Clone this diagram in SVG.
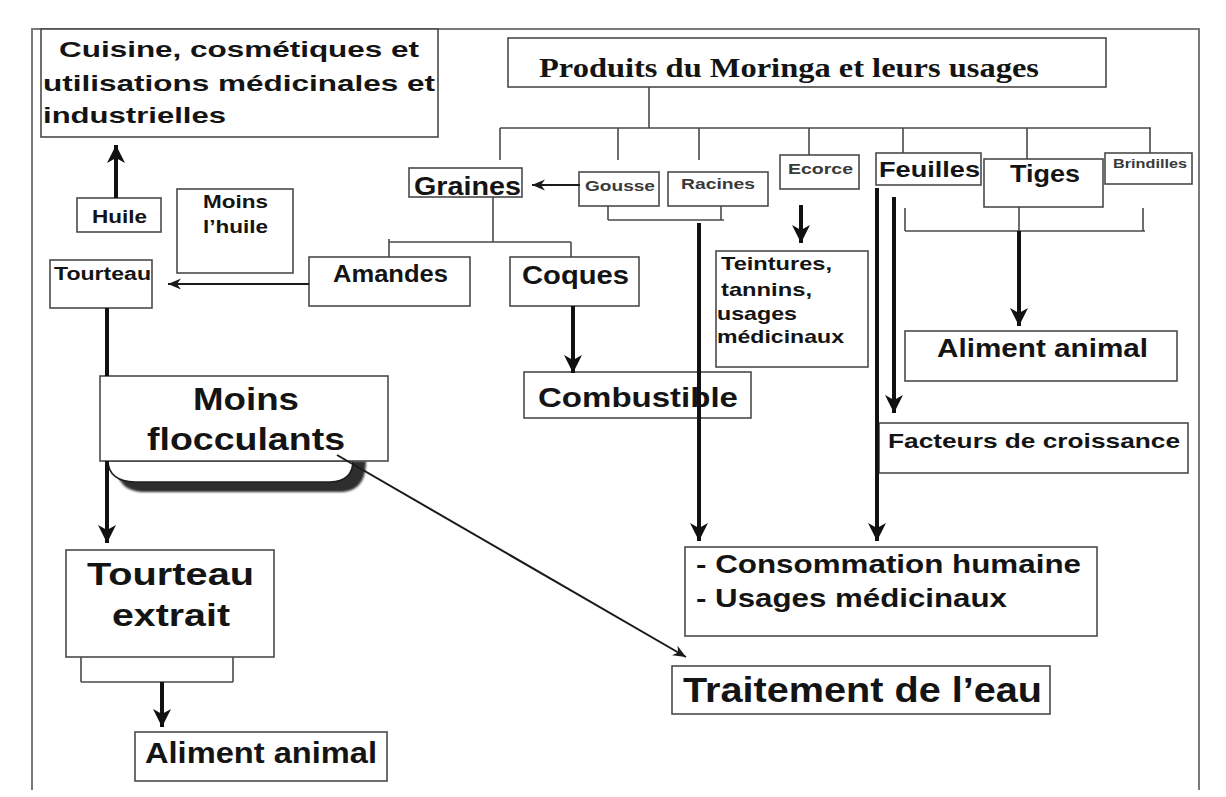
<svg xmlns="http://www.w3.org/2000/svg" width="1226" height="797" viewBox="0 0 1226 797">
  <style>
    .box { fill: #ffffff; stroke: #4a4a4a; stroke-width: 1.6; }
    .t { font-family: "Liberation Sans", Arial, sans-serif; font-weight: bold; fill: #141414; }
    .tg { font-family: "Liberation Sans", Arial, sans-serif; font-weight: bold; fill: #3a3a3a; }
    .ts { font-family: "Liberation Serif", "Times New Roman", serif; font-weight: bold; fill: #141414; }
    .tree { fill: none; stroke: #4a4a4a; stroke-width: 1.6; }
    .thick { fill: none; stroke: #111; stroke-width: 4; }
    .thin { fill: none; stroke: #1a1a1a; stroke-width: 2; }
    .frame { fill: none; stroke: #7a7a7a; stroke-width: 2; }
  </style>
  <defs>
    <marker id="headBig" markerUnits="userSpaceOnUse" markerWidth="20" markerHeight="20" viewBox="0 0 20 20" refX="18" refY="10" orient="auto">
      <path d="M0,1 L18,10 L0,19 L5,10 Z" fill="#111"/>
    </marker>
    <marker id="headSmall" markerUnits="userSpaceOnUse" markerWidth="14" markerHeight="12" viewBox="0 0 14 12" refX="13" refY="6" orient="auto">
      <path d="M0,0.5 L13,6 L0,11.5 L4,6 Z" fill="#1a1a1a"/>
    </marker>
    <filter id="soft" x="-10%" y="-30%" width="120%" height="160%">
      <feGaussianBlur stdDeviation="1.2"/>
    </filter>
  </defs>

  <rect x="0" y="0" width="1226" height="797" fill="#ffffff"/>

  <!-- page frame -->
  <path class="frame" d="M32,790 L32,29 L1199,29 L1199,790"/>

  <!-- branching lines of the tree -->
  <g id="tree-lines">
    <path class="tree" d="M649,87 V128 M500,128 H1151 M500,128 V160 M618,128 V160 M699,128 V160 M809,128 V155 M903,128 V153 M1027,128 V159 M1150,128 V153"/>
    <path class="tree" d="M493,197 V242 M389,242 H571 M389,239 V263 M571,242 V263"/>
    <path class="tree" d="M608,206 V220 M721,206 V220 M608,220 H724"/>
    <path class="tree" d="M905,208 V231 M1143,208 V231 M905,231 H1145 M1019,207 V231"/>
    <path class="tree" d="M81,657 V682 M233,657 V682 M81,682 H233"/>
  </g>

  <!-- nodes -->
  <g id="node-cuisine">
    <rect class="box" x="41" y="29" width="397" height="108"/>
    <text class="t" x="59" y="57" font-size="22" textLength="360" lengthAdjust="spacingAndGlyphs">Cuisine, cosmétiques et</text>
    <text class="t" x="43" y="91" font-size="22" textLength="392" lengthAdjust="spacingAndGlyphs">utilisations médicinales et</text>
    <text class="t" x="43" y="123" font-size="22" textLength="183" lengthAdjust="spacingAndGlyphs">industrielles</text>
  </g>

  <g id="node-produits">
    <rect class="box" x="508" y="38" width="598" height="49"/>
    <text class="ts" x="539" y="77" font-size="27" textLength="500" lengthAdjust="spacingAndGlyphs">Produits du Moringa et leurs usages</text>
  </g>

  <g id="node-huile">
    <rect class="box" x="77" y="198" width="84" height="34"/>
    <text class="t" x="92" y="223" font-size="19" textLength="55" lengthAdjust="spacingAndGlyphs">Huile</text>
  </g>

  <g id="node-moins-huile">
    <rect class="box" x="177" y="189" width="116" height="84"/>
    <text class="t" x="203" y="208" font-size="18" textLength="65" lengthAdjust="spacingAndGlyphs">Moins</text>
    <text class="t" x="203" y="233" font-size="18" textLength="65" lengthAdjust="spacingAndGlyphs">l’huile</text>
  </g>

  <g id="node-tourteau">
    <rect class="box" x="50" y="260" width="102" height="48"/>
    <text class="t" x="54" y="280" font-size="18" textLength="97" lengthAdjust="spacingAndGlyphs">Tourteau</text>
  </g>

  <g id="node-graines">
    <rect class="box" x="409" y="168" width="113" height="29"/>
    <text class="t" x="414" y="195" font-size="25" textLength="107" lengthAdjust="spacingAndGlyphs">Graines</text>
  </g>

  <g id="node-gousse">
    <rect class="box" x="579" y="172" width="80" height="34"/>
    <text class="tg" x="585" y="191" font-size="15" textLength="70" lengthAdjust="spacingAndGlyphs">Gousse</text>
  </g>

  <g id="node-racines">
    <rect class="box" x="668" y="172" width="100" height="34"/>
    <text class="tg" x="681" y="189" font-size="15" textLength="74" lengthAdjust="spacingAndGlyphs">Racines</text>
  </g>

  <g id="node-ecorce">
    <rect class="box" x="780" y="155" width="79" height="34"/>
    <text class="tg" x="788" y="174" font-size="15" textLength="65" lengthAdjust="spacingAndGlyphs">Ecorce</text>
  </g>

  <g id="node-feuilles">
    <rect class="box" x="876" y="153" width="105" height="32"/>
    <text class="t" x="879" y="177" font-size="22" textLength="101" lengthAdjust="spacingAndGlyphs">Feuilles</text>
  </g>

  <g id="node-tiges">
    <rect class="box" x="984" y="159" width="119" height="48"/>
    <text class="t" x="1010" y="182" font-size="24" textLength="70" lengthAdjust="spacingAndGlyphs">Tiges</text>
  </g>

  <g id="node-brindilles">
    <rect class="box" x="1105" y="153" width="87" height="31"/>
    <text class="tg" x="1113" y="168" font-size="12.5" textLength="74" lengthAdjust="spacingAndGlyphs">Brindilles</text>
  </g>

  <g id="node-amandes">
    <rect class="box" x="309" y="257" width="161" height="49"/>
    <text class="t" x="333" y="282" font-size="23" textLength="115" lengthAdjust="spacingAndGlyphs">Amandes</text>
  </g>

  <g id="node-coques">
    <rect class="box" x="510" y="257" width="129" height="49"/>
    <text class="t" x="522" y="284" font-size="26" textLength="107" lengthAdjust="spacingAndGlyphs">Coques</text>
  </g>

  <g id="node-teintures">
    <rect class="box" x="716" y="251" width="152" height="116"/>
    <text class="t" x="721" y="270" font-size="19" textLength="111" lengthAdjust="spacingAndGlyphs">Teintures,</text>
    <text class="t" x="721" y="296" font-size="19" textLength="91" lengthAdjust="spacingAndGlyphs">tannins,</text>
    <text class="t" x="717" y="320" font-size="19" textLength="80" lengthAdjust="spacingAndGlyphs">usages</text>
    <text class="t" x="717" y="343" font-size="19" textLength="127" lengthAdjust="spacingAndGlyphs">médicinaux</text>
  </g>

  <g id="node-combustible">
    <rect class="box" x="524" y="372" width="227" height="46"/>
    <text class="t" x="538" y="407" font-size="27" textLength="200" lengthAdjust="spacingAndGlyphs">Combustible</text>
  </g>

  <g id="node-aliment-animal-tiges">
    <rect class="box" x="905" y="331" width="272" height="50"/>
    <text class="t" x="937" y="357" font-size="25" textLength="211" lengthAdjust="spacingAndGlyphs">Aliment animal</text>
  </g>

  <g id="node-facteurs">
    <rect class="box" x="879" y="423" width="309" height="50"/>
    <text class="t" x="888" y="448" font-size="21" textLength="292" lengthAdjust="spacingAndGlyphs">Facteurs de croissance</text>
  </g>

  <g id="node-moins-flocculants">
    <!-- rounded tab with drop shadow hanging below the box -->
    <path d="M118,461 L118,471 C118,484 128,492 145,492 L340,492 C356,492 366,483 366,461 Z" fill="#2e2e2e" filter="url(#soft)"/>
    <path d="M108,461 C108,474 118,482 135,482 L330,482 C345,482 353,474 353,461 Z" fill="#ffffff" stroke="#1e1e1e" stroke-width="1.6"/>
    <rect class="box" x="100" y="376" width="288" height="85"/>
    <text class="t" x="193" y="410" font-size="31" textLength="106" lengthAdjust="spacingAndGlyphs">Moins</text>
    <text class="t" x="147" y="450" font-size="31" textLength="198" lengthAdjust="spacingAndGlyphs">flocculants</text>
  </g>

  <g id="node-consommation">
    <rect class="box" x="685" y="547" width="412" height="89"/>
    <text class="t" x="696" y="573" font-size="25" textLength="385" lengthAdjust="spacingAndGlyphs">- Consommation humaine</text>
    <text class="t" x="696" y="607" font-size="25" textLength="311" lengthAdjust="spacingAndGlyphs">- Usages médicinaux</text>
  </g>

  <g id="node-traitement">
    <rect class="box" x="672" y="666" width="378" height="48"/>
    <text class="t" x="683" y="702" font-size="35" textLength="359" lengthAdjust="spacingAndGlyphs">Traitement de l’eau</text>
  </g>

  <g id="node-tourteau-extrait">
    <rect class="box" x="66" y="550" width="208" height="107"/>
    <text class="t" x="87" y="585" font-size="32" textLength="167" lengthAdjust="spacingAndGlyphs">Tourteau</text>
    <text class="t" x="112" y="626" font-size="32" textLength="118" lengthAdjust="spacingAndGlyphs">extrait</text>
  </g>

  <g id="node-aliment-animal-tourteau">
    <rect class="box" x="135" y="732" width="252" height="49"/>
    <text class="t" x="145" y="763" font-size="29" textLength="232" lengthAdjust="spacingAndGlyphs">Aliment animal</text>
  </g>

  <!-- arrows -->
  <g id="connectors">
    <line class="thick" x1="116" y1="198" x2="116" y2="145" marker-end="url(#headBig)"/>
    <line class="thick" x1="107" y1="308" x2="107" y2="376"/>
    <line class="thick" x1="107" y1="461" x2="107" y2="543" marker-end="url(#headBig)"/>
    <line class="thick" x1="573" y1="306" x2="573" y2="373" marker-end="url(#headBig)"/>
    <line class="thick" x1="699" y1="223" x2="699" y2="541" marker-end="url(#headBig)"/>
    <line class="thick" x1="801" y1="205" x2="801" y2="243" marker-end="url(#headBig)"/>
    <line class="thick" x1="877" y1="188" x2="877" y2="541" marker-end="url(#headBig)"/>
    <line class="thick" x1="894" y1="197" x2="894" y2="413" marker-end="url(#headBig)"/>
    <line class="thick" x1="1019" y1="231" x2="1019" y2="326" marker-end="url(#headBig)"/>
    <line class="thick" x1="162" y1="682" x2="162" y2="727" marker-end="url(#headBig)"/>
    <line class="thin" x1="309" y1="284" x2="168" y2="284" marker-end="url(#headSmall)"/>
    <line class="thin" x1="580" y1="185" x2="532" y2="185" marker-end="url(#headSmall)"/>
    <line class="thin" x1="337" y1="455" x2="686" y2="657" marker-end="url(#headSmall)"/>
  </g>
</svg>
